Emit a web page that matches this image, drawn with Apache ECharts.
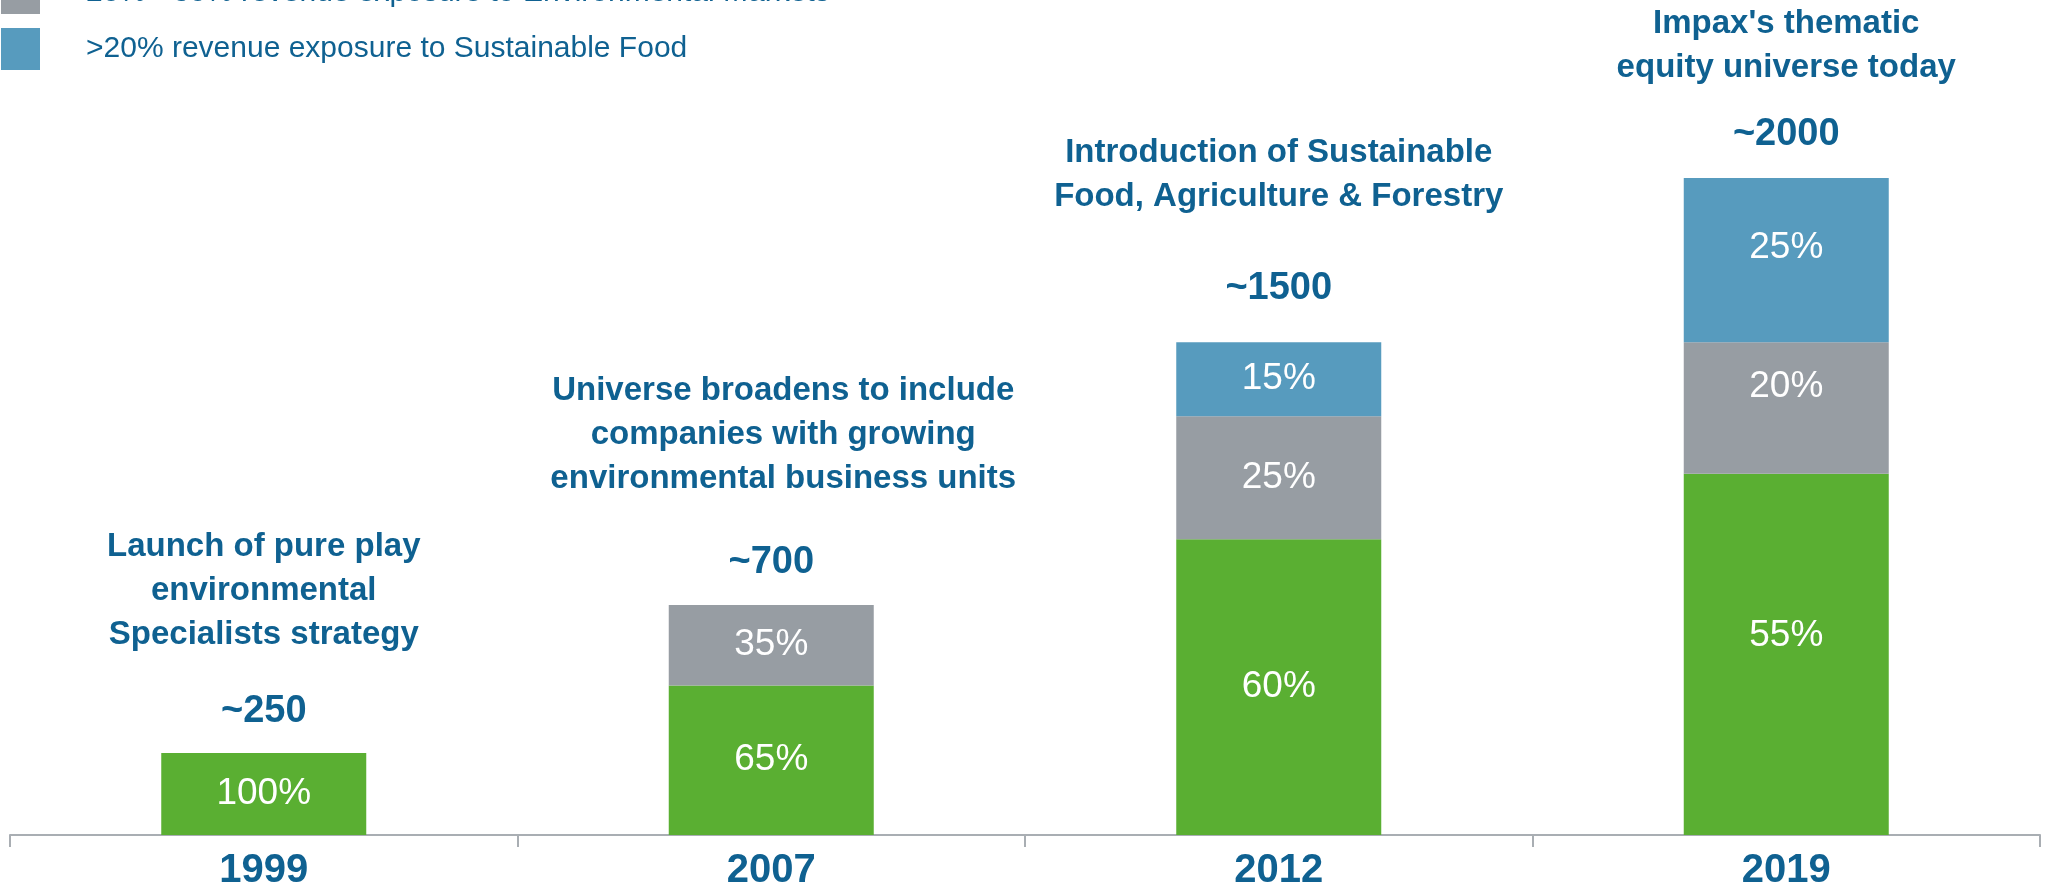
<!DOCTYPE html>
<html>
<head>
<meta charset="utf-8">
<title>Impax thematic equity universe</title>
<script src="https://cdn.jsdelivr.net/npm/echarts@6/dist/echarts.min.js"></script>
<style>
  html, body { margin: 0; padding: 0; background: #ffffff; }
  #chart { width: 2048px; height: 888px; }
</style>
</head>
<body>
<div id="chart"></div>
<script>
// Universe snapshots by year
const years = ['1999', '2007', '2012', '2019'];
const universeSize = [250, 700, 1500, 2000];
const totalLabels = ['~250', '~700', '~1500', '~2000'];

// Share of each exposure bucket within the universe (%)
const pureShare = [100, 65, 60, 55];
const envShare = [0, 35, 25, 20];
const foodShare = [0, 0, 15, 25];

const seriesNames = [
  '>50% revenue exposure to Environmental Markets',
  '20% - 30% revenue exposure to Environmental Markets',
  '>20% revenue exposure to Sustainable Food'
];

const milestoneNotes = [
  ['Launch of pure play', 'environmental', 'Specialists strategy'],
  ['Universe broadens to include', 'companies with growing', 'environmental business units'],
  ['Introduction of Sustainable', 'Food, Agriculture & Forestry'],
  ["Impax's thematic", 'equity universe today']
];

// ---- styling / layout ----
const FONT = '"Liberation Sans", Arial, sans-serif';
const TEXT_BLUE = '#0F6191';
const COLORS = ['#5AAF32', '#979DA3', '#579BBE'];
const COUNT_FS = 38;
const countGap = [41, 42, 53, 43];   // bar top -> count label centre
const noteGap = [76, 84, 92, 67];    // count centre -> last note line centre
const noteShiftX = [0, 12, 0, 0];
// upward nudge of the in-bar percentage labels, per bucket and year
const innerLift = [
  [0, 0, 0, 19],
  [0, 0, 0, 21],
  [0, 0, 0, 12]
];

const shares = [pureShare, envShare, foodShare];

function segmentSeries(k) {
  return {
    name: seriesNames[k],
    type: 'bar',
    stack: 'universe',
    barWidth: 205,
    itemStyle: { color: COLORS[k] },
    data: shares[k].map((p, i) => {
      if (!p) return null;
      return {
        value: universeSize[i] * p / 100,
        label: { offset: [0, -innerLift[k][i]] }
      };
    }),
    label: {
      show: true,
      position: 'inside',
      color: '#ffffff',
      fontFamily: FONT,
      fontSize: 37,
      formatter: (p) => shares[k][p.dataIndex] + '%'
    },
    emphasis: { disabled: true }
  };
}

const option = {
  animation: false,
  backgroundColor: '#ffffff',
  textStyle: { fontFamily: FONT },
  legend: {
    orient: 'vertical',
    left: 1,
    top: -84,
    padding: 0,
    itemWidth: 39,
    itemHeight: 42,
    itemGap: 14,
    icon: 'rect',
    selectedMode: false,
    data: seriesNames,
    textStyle: {
      fontFamily: FONT,
      fontSize: 30,
      color: TEXT_BLUE,
      padding: [10, 0, 0, 41]
    }
  },
  grid: {
    left: 10, right: 8, top: 178, bottom: 53,
    containLabel: false,
    outerBoundsMode: 'none'
  },
  xAxis: {
    type: 'category',
    data: years,
    axisLine: { lineStyle: { color: '#A9AEB3', width: 2 } },
    axisTick: { show: true, length: 12, lineStyle: { color: '#A9AEB3', width: 2 } },
    axisLabel: {
      margin: 16,
      fontFamily: FONT,
      fontSize: 40,
      fontWeight: 'bold',
      color: TEXT_BLUE
    }
  },
  yAxis: {
    type: 'value',
    min: 0,
    max: 2000,
    show: false,
    splitLine: { show: false }
  },
  series: [
    segmentSeries(0),
    segmentSeries(1),
    segmentSeries(2),
    {
      name: 'count',
      type: 'scatter',
      symbolSize: 1,
      itemStyle: { color: 'transparent', opacity: 1 },
      z: 5,
      silent: true,
      data: universeSize.map((v, i) => ({
        value: v,
        label: { distance: countGap[i] - COUNT_FS / 2 }
      })),
      label: {
        show: true,
        position: 'top',
        opacity: 1,
        fontFamily: FONT,
        fontSize: COUNT_FS,
        lineHeight: COUNT_FS,
        fontWeight: 'bold',
        color: TEXT_BLUE,
        formatter: (p) => totalLabels[p.dataIndex]
      }
    },
    {
      name: 'note',
      type: 'scatter',
      symbolSize: 1,
      itemStyle: { color: 'transparent', opacity: 1 },
      z: 5,
      silent: true,
      data: universeSize.map((v, i) => ({
        value: v,
        label: {
          distance: countGap[i] + noteGap[i] - 22,
          offset: [noteShiftX[i], 0]
        }
      })),
      label: {
        show: true,
        position: 'top',
        align: 'center',
        opacity: 1,
        fontFamily: FONT,
        fontSize: 33,
        lineHeight: 44,
        fontWeight: 'bold',
        color: TEXT_BLUE,
        formatter: (p) => milestoneNotes[p.dataIndex].join('\n')
      }
    }
  ]
};

const chart = echarts.init(document.getElementById('chart'), null, { renderer: 'canvas' });
chart.setOption(option);
</script>
</body>
</html>
